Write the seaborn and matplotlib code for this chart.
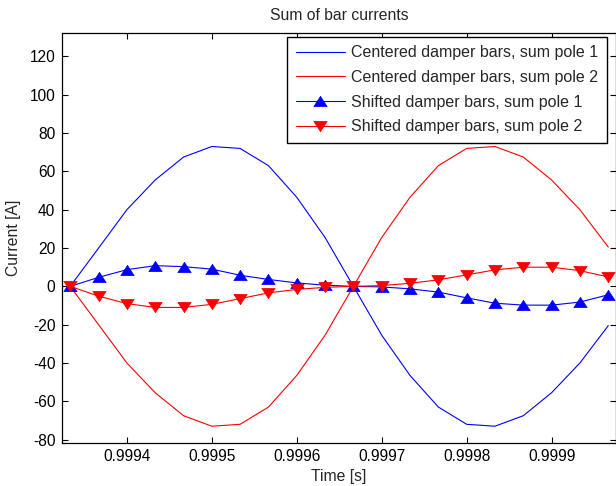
import numpy as np
import pandas as pd
import seaborn as sns
import matplotlib
matplotlib.use("Agg")
import matplotlib.pyplot as plt
from matplotlib.ticker import FormatStrFormatter

time_s = [0.9993333, 0.9993667, 0.9994000, 0.9994333, 0.9994667,
          0.9995000, 0.9995333, 0.9995667, 0.9996000, 0.9996333,
          0.9996667, 0.9997000, 0.9997333, 0.9997667, 0.9998000,
          0.9998333, 0.9998667, 0.9999000, 0.9999333, 0.9999667]

centered_pole1 = [0, 20, 40, 55.5, 67.5, 73, 72, 63, 46.5, 25.5,
                  0, -25.5, -46.5, -63, -72, -73, -67.5, -55.5, -40, -20.5]
centered_pole2 = [0, -20, -40, -55.5, -67.5, -73, -72, -63, -46.5, -25.5,
                  0, 25.5, 46.5, 63, 72, 73, 67.5, 55.5, 40, 20.5]
shifted_pole1 = [0, 4.7, 8.7, 10.8, 10.3, 9.0, 5.8, 3.6, 1.8, 0.6,
                 0, -0.3, -1.3, -3.0, -6.0, -8.8, -9.8, -9.8, -8.2, -4.4]
shifted_pole2 = [0, -5.1, -9.0, -11.0, -11.0, -9.4, -6.4, -3.4, -1.6, -0.5,
                 0, 0.4, 1.6, 3.4, 6.0, 8.6, 10.0, 10.0, 8.2, 4.9]

labels = ["Centered damper bars, sum pole 1",
          "Centered damper bars, sum pole 2",
          "Shifted damper bars, sum pole 1",
          "Shifted damper bars, sum pole 2"]
x_ticks = [0.9994, 0.9995, 0.9996, 0.9997, 0.9998, 0.9999]
y_ticks = [-80, -60, -40, -20, 0, 20, 40, 60, 80, 100, 120]

sns.set_style("ticks")
plt.rcParams['font.family'] = ['Liberation Sans', 'DejaVu Sans']
plt.rcParams['axes.unicode_minus'] = False
plt.rcParams['xtick.direction'] = 'in'
plt.rcParams['ytick.direction'] = 'in'

W, H = 616, 486
L, R, T, B = 62.3, 615.5, 32.7, 442.5
fig = plt.figure(figsize=(W / 100, H / 100), dpi=100)
ax = fig.add_axes([L / W, 1 - B / H, (R - L) / W, (B - T) / H])

tri_up = [(0, 1), (-1.3, -1), (1.3, -1), (0, 1)]
tri_dn = [(0, -1), (-1.3, 1), (1.3, 1), (0, -1)]

series = [centered_pole1, centered_pole2, shifted_pole1, shifted_pole2]
colors = ["#0000ff", "#ff0000", "#0000ff", "#ff0000"]
markers = [None, None, tri_up, tri_dn]
for vals, lab, col, mk in zip(series, labels, colors, markers):
    df = pd.DataFrame({"t": time_s, "I": vals})
    kw = dict(marker=mk, markersize=9.6, markeredgecolor=col,
              markerfacecolor=col, markeredgewidth=0.5) if mk is not None else {}
    sns.lineplot(data=df, x="t", y="I", ax=ax, color=col, linewidth=0.8,
                 label=lab, **kw)

ax.set_xlim(0.999324, 0.9999752)
ax.set_ylim(-81.5, 132.4)
ax.set_xticks(x_ticks)
ax.set_yticks(y_ticks)
ax.xaxis.set_major_formatter(FormatStrFormatter('%.4f'))
ax.tick_params(axis='both', which='both', direction='in', length=4, width=0.8,
               top=True, right=True, labelsize=11.2, colors='black', pad=5)
for sp in ax.spines.values():
    sp.set_visible(True)
    sp.set_color('black')
    sp.set_linewidth(0.9)

ax.set_title("Sum of bar currents", fontsize=11.3, pad=9)
ax.set_xlabel("Time [s]", fontsize=11.3, labelpad=3)
ax.set_ylabel("Current [A]", fontsize=11.3, labelpad=6)

ax_w = R - L
ax_h = B - T
anchor = ((606.7 - L) / ax_w, 1 - (36.7 - T) / ax_h)
leg = ax.legend(loc='upper right', bbox_to_anchor=anchor, fontsize=11.5,
                frameon=True, fancybox=False, edgecolor='black', framealpha=1,
                borderaxespad=0, borderpad=0.55, handlelength=3.1,
                handletextpad=0.35, labelspacing=0.6)
leg.get_frame().set_linewidth(1.0)

fig.savefig("out.png", dpi=100)
